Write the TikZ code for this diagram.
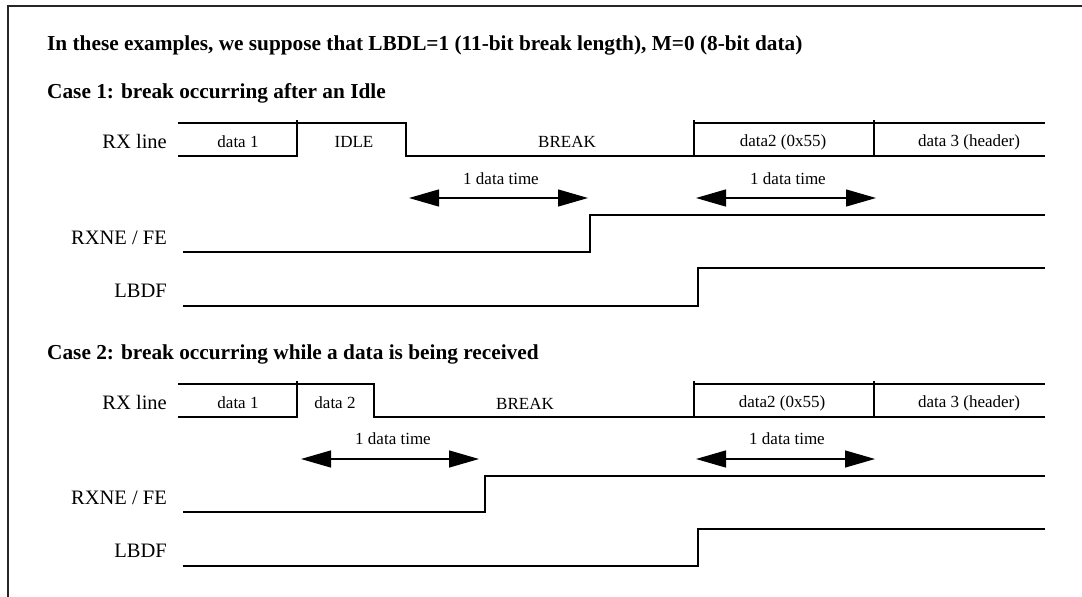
\documentclass[tikz,border=0pt]{standalone}
\usepackage{fontspec}
\setmainfont{Liberation Serif}
\usetikzlibrary{arrows.meta}
\tikzset{
  sig/.style={line width=1.3pt, black},
  frame/.style={line width=2pt, black!85},
  boxlbl/.style={font=\fontsize{17}{19}\selectfont, inner sep=0pt},
  siglbl/.style={font=\fontsize{20.5}{22}\selectfont, anchor=east, inner sep=0pt},
  head/.style={font=\bfseries\fontsize{21.3}{24}\selectfont, anchor=west, inner sep=0pt},
  dtime/.style={line width=1.3pt, {Triangle[length=30pt,width=17pt]}-{Triangle[length=30pt,width=17pt]}},
  dtlbl/.style={font=\fontsize{17}{19}\selectfont, inner sep=0pt}
}
\begin{document}
\begin{tikzpicture}[x=1pt,y=-1pt]
\useasboundingbox (0,0) rectangle (1082,597);
% frame
\draw[frame] (8,597) -- (8,6) -- (1082,6);

% headings
\node[head] (h0) at (47,45) {In these examples, we suppose that LBDL=1 (11-bit break length), M=0 (8-bit data)};
\node[head] (h1) at (47,93) {Case 1: break occurring after an Idle};
\node[head] (h2) at (47,354) {Case 2: break occurring while a data is being received};

% ---------- Case 1 ----------
\node[siglbl] (rx1) at (167,141) {RX line};
\node[siglbl] (rxne1) at (167,238) {RXNE / FE};
\node[siglbl] (lbdf1) at (167,291) {LBDF};

\draw[sig] (178,123) -- (406,123) -- (406,156) -- (694,156);
\draw[sig] (178,156) -- (297,156);
\draw[sig] (297,120) -- (297,157);
\draw[sig] (694,123) -- (1045,123);
\draw[sig] (694,156) -- (1045,156);
\draw[sig] (694,120) -- (694,157);
\draw[sig] (874,120) -- (874,157);

\node[boxlbl] (c1d1) at (238,142) {data 1};
\node[boxlbl] (c1idle) at (354,142) {IDLE};
\node[boxlbl] (c1brk) at (567,142) {BREAK};
\node[boxlbl] (c1d2) at (783,142) {data2 (0x55)};
\node[boxlbl] (c1d3) at (969,142) {data 3 (header)};

\coordinate (a1l) at (409,198);
\coordinate (a1r) at (588,198);
\coordinate (a2l) at (696,198);
\coordinate (a2r) at (876,198);
\draw[dtime] (a1l) -- (a1r);
\draw[dtime] (a2l) -- (a2r);
\node[dtlbl] (t1) at (501,179) {1 data time};
\node[dtlbl] (t2) at (788,179) {1 data time};

\draw[sig] (183,252) -- (590,252) -- (590,215) -- (1045,215);
\draw[sig] (183,306) -- (698,306) -- (698,268) -- (1045,268);

% ---------- Case 2 ----------
\node[siglbl] (rx2) at (167,402) {RX line};
\node[siglbl] (rxne2) at (167,498) {RXNE / FE};
\node[siglbl] (lbdf2) at (167,551) {LBDF};

\draw[sig] (178,384) -- (374,384) -- (374,417) -- (694,417);
\draw[sig] (178,417) -- (297,417);
\draw[sig] (297,381) -- (297,418);
\draw[sig] (694,384) -- (1045,384);
\draw[sig] (694,417) -- (1045,417);
\draw[sig] (694,381) -- (694,418);
\draw[sig] (874,381) -- (874,418);

\node[boxlbl] (c2d1) at (238,403) {data 1};
\node[boxlbl] (c2d2a) at (335,403) {data 2};
\node[boxlbl] (c2brk) at (525,404) {BREAK};
\node[boxlbl] (c2d2) at (782,403) {data2 (0x55)};
\node[boxlbl] (c2d3) at (969,403) {data 3 (header)};

\coordinate (b1l) at (301,459);
\coordinate (b1r) at (479,459);
\coordinate (b2l) at (696,459);
\coordinate (b2r) at (875,459);
\draw[dtime] (b1l) -- (b1r);
\draw[dtime] (b2l) -- (b2r);
\node[dtlbl] (t3) at (393,439) {1 data time};
\node[dtlbl] (t4) at (787,439) {1 data time};

\draw[sig] (183,512) -- (485,512) -- (485,476) -- (1045,476);
\draw[sig] (183,566) -- (698,566) -- (698,529) -- (1045,529);
\end{tikzpicture}
\end{document}
